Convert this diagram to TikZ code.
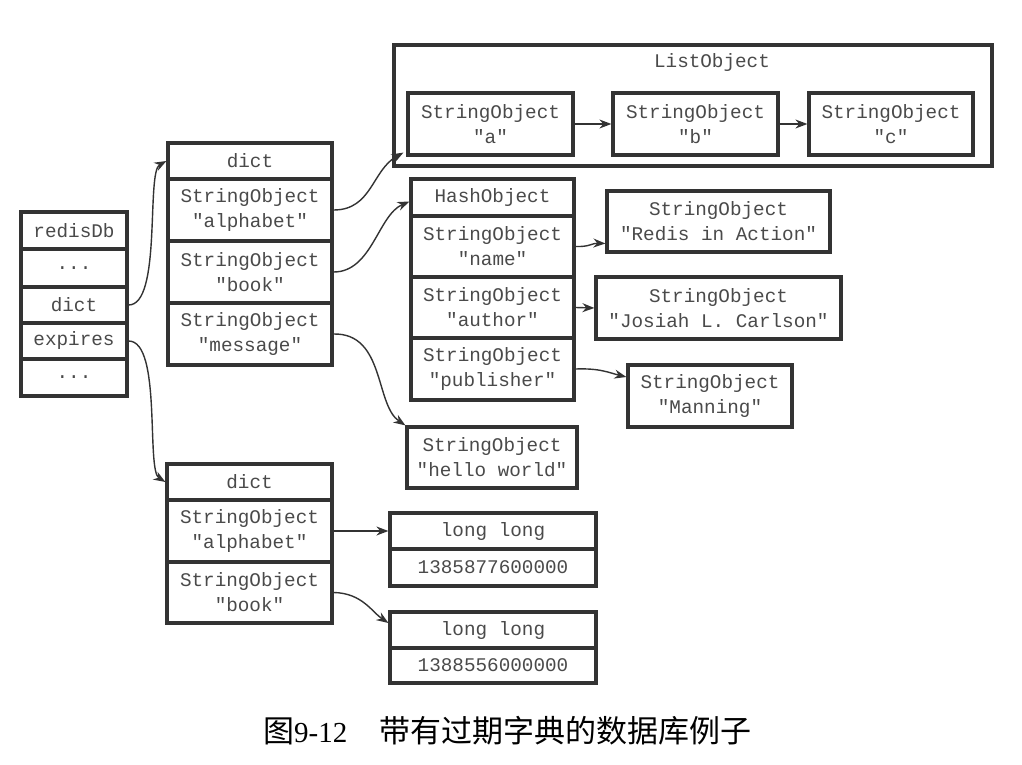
\documentclass[tikz,border=0pt]{standalone}
\usepackage{fontspec}
\setmonofont{Liberation Mono}
\newfontfamily\cjk{Noto Sans CJK SC}
\newfontfamily\capserif{Liberation Serif}
\usetikzlibrary{arrows.meta}
\definecolor{ln}{HTML}{333333}
\definecolor{tx}{HTML}{4A4A4A}
\tikzset{
  cell/.style={draw=ln, line width=3.2pt, text=tx, font=\ttfamily\fontsize{19.3}{25}\selectfont, align=center, inner sep=0pt},
  arr/.style={draw=ln, line width=1.4pt, -{Stealth[length=12pt,width=9pt]}},
}
\newcommand\cellbox[6]{\node[cell, minimum width={#4-#2}, minimum height={#5-#3}] (#1) at ({(#2+#4)/2},{(#3+#5)/2}) {#6};}
\begin{document}
\begin{tikzpicture}[x=1pt,y=-1pt]
\useasboundingbox[fill=white] (0,0) rectangle (1022,765);
% redisDb
\cellbox{r0}{21}{212}{127}{249}{redisDb}
\cellbox{r1}{21}{249}{127}{287}{...}
\cellbox{r2}{21}{287}{127}{323}{dict}
\cellbox{r3}{21}{323}{127}{359}{expires}
\cellbox{r4}{21}{359}{127}{396}{...}
% dict 1
\cellbox{d1h}{168}{143}{332}{179}{dict}
\cellbox{d1a}{168}{179}{332}{241}{StringObject\\"alphabet"}
\cellbox{d1b}{168}{241}{332}{303}{StringObject\\"book"}
\cellbox{d1m}{168}{303}{332}{365}{StringObject\\"message"}
% dict 2
\cellbox{d2h}{167}{464}{332}{500}{dict}
\cellbox{d2a}{167}{500}{332}{562}{StringObject\\"alphabet"}
\cellbox{d2b}{167}{562}{332}{623}{StringObject\\"book"}
% long long
\cellbox{l1h}{390}{513}{596}{549}{long long}
\cellbox{l1v}{390}{549}{596}{586}{1385877600000}
\cellbox{l2h}{390}{612}{596}{648}{long long}
\cellbox{l2v}{390}{648}{596}{683}{1388556000000}
% list object
\cellbox{lo}{394}{45}{992}{166}{}
\node[text=tx, font=\ttfamily\fontsize{19.3}{25}\selectfont] (lot) at (712,63) {ListObject};
\cellbox{la}{408}{93}{573}{155}{StringObject\\"a"}
\cellbox{lb}{613}{93}{778}{155}{StringObject\\"b"}
\cellbox{lc}{809}{93}{973}{155}{StringObject\\"c"}
% hash object
\cellbox{hh}{411}{179}{574}{216}{HashObject}
\cellbox{hn}{411}{216}{574}{277}{StringObject\\"name"}
\cellbox{ha}{411}{277}{574}{338}{StringObject\\"author"}
\cellbox{hp}{411}{338}{574}{400}{StringObject\\"publisher"}
% values
\cellbox{vr}{607}{191}{830}{252}{StringObject\\"Redis in Action"}
\cellbox{vj}{596}{277}{841}{339}{StringObject\\"Josiah L. Carlson"}
\cellbox{vm}{628}{365}{792}{427}{StringObject\\"Manning"}
\cellbox{vh}{407}{427}{577}{488}{StringObject\\"hello world"}
% connectors
\draw[arr] (r2.east) .. controls (162,305) and (146,172) .. (d1h.west);
\draw[arr] (r3.east) .. controls (162,341) and (146,470) .. (d2h.west);
\draw[arr] (d1a.east) .. controls (372,210) and (372,170) .. ([shift={(-3,-4)}]la.south west);
\draw[arr] (d1b.east) .. controls (372,272) and (378,215) .. ([shift={(0,4)}]hh.west);
\draw[arr] (d1m.east) .. controls (385,333) and (375,405) .. (vh.north west);
\draw[arr] (la.east) -- (lb.west);
\draw[arr] (lb.east) -- (lc.west);
\draw[arr] (hn.east) .. controls (590,247) and (592,243) .. ([shift={(0,22)}]vr.west);
\draw[arr] (ha.east) -- (vj.west);
\draw[arr] (hp.east) .. controls (600,368) and (610,373) .. ([shift={(0,-19)}]vm.west);
\draw[arr] (d2a.east) -- (l1h.west |- d2a.east);
\draw[arr] (d2b.east) .. controls (362,593) and (372,612) .. ([shift={(0,-7)}]l2h.west);
% caption
\node[anchor=west, inner sep=0pt] (cap) at (263,731) {{\cjk\fontsize{31}{36}\selectfont 图}{\capserif\fontsize{29}{36}\selectfont 9-12}\hspace{32pt}{\cjk\fontsize{31}{36}\selectfont 带有过期字典的数据库例子}};
\end{tikzpicture}
\end{document}
